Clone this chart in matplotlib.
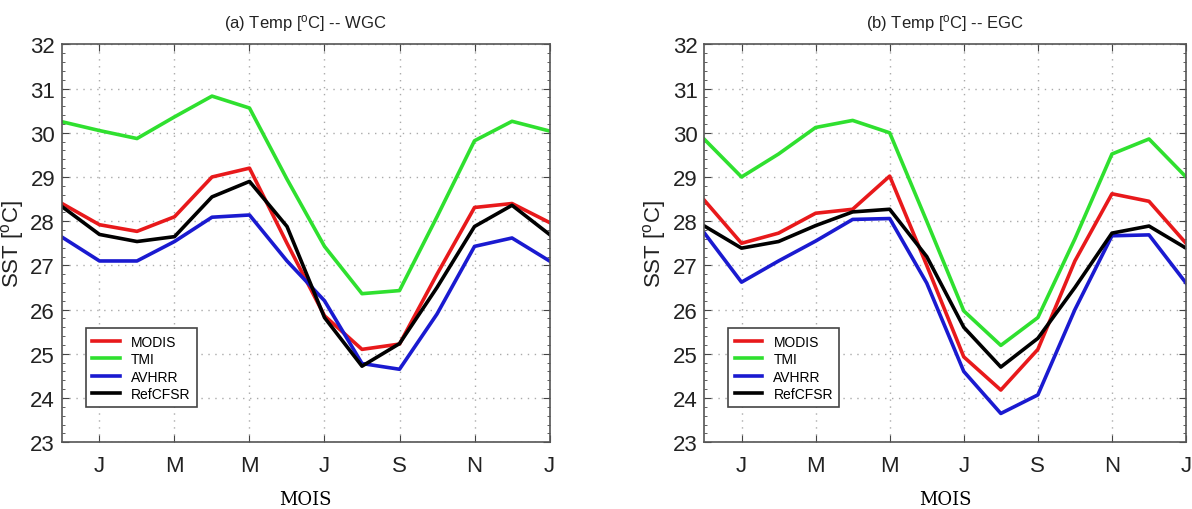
import numpy as np
import matplotlib
matplotlib.use('Agg')
import matplotlib.pyplot as plt
from matplotlib.ticker import MultipleLocator

plt.rcParams['font.family'] = ['Liberation Sans', 'DejaVu Sans']
plt.rcParams['mathtext.fontset'] = 'custom'
plt.rcParams['mathtext.rm'] = 'Liberation Sans'
plt.rcParams['mathtext.it'] = 'Liberation Sans'

# months Dec .. Jan (next year), 14 points
months = np.arange(14)
tick_pos = [1, 3, 5, 7, 9, 11, 13]
tick_labels = ['J', 'M', 'M', 'J', 'S', 'N', 'J']

# (a) WGC
modis_wgc = [28.40, 27.92, 27.77, 28.10, 29.00, 29.20, 27.50, 25.86, 25.10, 25.22, 26.80, 28.31, 28.40, 27.97]
tmi_wgc = [30.25, 30.05, 29.87, 30.36, 30.83, 30.56, 28.95, 27.43, 26.36, 26.43, 28.10, 29.82, 30.26, 30.04]
avhrr_wgc = [27.64, 27.10, 27.10, 27.54, 28.09, 28.14, 27.10, 26.20, 24.78, 24.65, 25.90, 27.43, 27.62, 27.10]
cfsr_wgc = [28.33, 27.70, 27.54, 27.65, 28.55, 28.90, 27.88, 25.82, 24.72, 25.23, 26.50, 27.88, 28.36, 27.70]

# (b) EGC
modis_egc = [28.47, 27.50, 27.73, 28.18, 28.27, 29.02, 27.00, 24.93, 24.18, 25.10, 27.10, 28.62, 28.45, 27.50]
tmi_egc = [29.85, 29.00, 29.52, 30.12, 30.28, 30.00, 28.00, 25.97, 25.19, 25.82, 27.60, 29.52, 29.86, 29.00]
avhrr_egc = [27.73, 26.62, 27.10, 27.55, 28.04, 28.06, 26.60, 24.60, 23.65, 24.07, 26.00, 27.67, 27.69, 26.60]
cfsr_egc = [27.89, 27.39, 27.54, 27.90, 28.21, 28.27, 27.20, 25.60, 24.70, 25.35, 26.50, 27.73, 27.89, 27.39]

names = ['MODIS', 'TMI', 'AVHRR', 'RefCFSR']
colors = ['#e8191b', '#2fe02f', '#1a1ad0', '#000000']

panels = [
    ('(a) Temp [$^o$C] -- WGC', [modis_wgc, tmi_wgc, avhrr_wgc, cfsr_wgc], [0.052, 0.131, 0.409, 0.780]),
    ('(b) Temp [$^o$C] -- EGC', [modis_egc, tmi_egc, avhrr_egc, cfsr_egc], [0.591, 0.131, 0.404, 0.780]),
]

fig = plt.figure(figsize=(11.92, 5.10), dpi=100)

for title, series, rect in panels:
    ax = fig.add_axes(rect)
    for vals, name, col in zip(series, names, colors):
        ax.plot(months, vals, color=col, lw=2.6, label=name)
    ax.set_xlim(0, 13)
    ax.set_ylim(23, 32)
    ax.set_xticks(tick_pos)
    ax.set_xticklabels(tick_labels)
    ax.yaxis.set_major_locator(MultipleLocator(1))
    ax.yaxis.set_minor_locator(MultipleLocator(0.2))
    ax.tick_params(direction='in', which='both', top=True, right=True,
                   labelsize=16, color='#444444', labelcolor='#222222')
    ax.tick_params(axis='x', pad=9)
    ax.tick_params(axis='y', pad=5)
    ax.tick_params(which='major', length=5)
    ax.tick_params(which='minor', length=2.5)
    ax.grid(True, which='major', ls=(0, (1, 4)), color='#aaaaaa', lw=1)
    for sp in ax.spines.values():
        sp.set_color('#555555')
        sp.set_linewidth(1.2)
    ax.set_title(title, fontsize=12, pad=12, color='#222222')
    ax.set_ylabel('SST [$^o$C]', fontsize=16, labelpad=3, color='#222222')
    ax.set_xlabel('MOIS', fontsize=13, family='DejaVu Serif', labelpad=10)
    leg = ax.legend(loc='lower left', bbox_to_anchor=(0.035, 0.07), fontsize=10,
                    handlelength=2.0, handletextpad=0.8, borderpad=0.45,
                    labelspacing=0.25, fancybox=False, framealpha=1)
    leg.get_frame().set_edgecolor('#444444')
    leg.get_frame().set_linewidth(1.2)

fig.savefig('out.png', dpi=100)
